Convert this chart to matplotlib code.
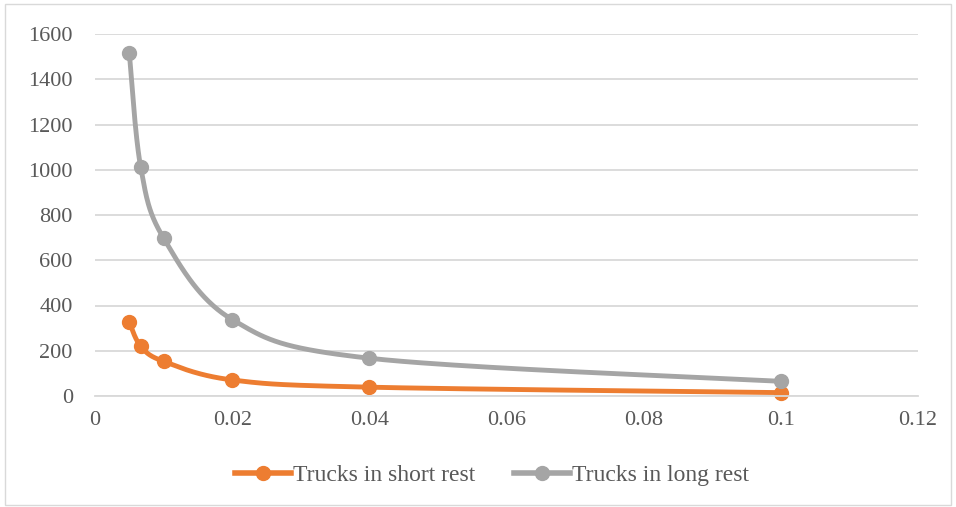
import numpy as np
import matplotlib
matplotlib.use('Agg')
import matplotlib.pyplot as plt
from matplotlib.lines import Line2D
from matplotlib.patches import Rectangle

plt.rcParams['font.family'] = ['Liberation Serif', 'DejaVu Serif']

x_vals = [0.005, 0.00667, 0.01, 0.02, 0.04, 0.1]
short_rest = [326, 220, 153, 71, 39, 15]
long_rest = [1515, 1010, 698, 338, 167, 65]
series_names = ['Trucks in short rest', 'Trucks in long rest']
colors = ['#ED7D31', '#A5A5A5']
text_color = '#595959'


def smooth(ax, xs, ys, n=40):
    # Catmull-Rom through the points, done in display space like Excel's smoothed lines
    pts = ax.transData.transform(np.column_stack([xs, ys]))
    p = np.vstack([pts[0], pts, pts[-1]])
    out = []
    t = np.linspace(0, 1, n)[:, None]
    for i in range(1, len(p) - 2):
        p0, p1, p2, p3 = p[i - 1], p[i], p[i + 1], p[i + 2]
        c1 = p1 + (p2 - p0) / 6.0
        c2 = p2 - (p3 - p1) / 6.0
        seg = ((1 - t) ** 3) * p1 + 3 * ((1 - t) ** 2) * t * c1 + 3 * (1 - t) * t ** 2 * c2 + t ** 3 * p2
        out.append(seg)
    out = np.vstack(out)
    d = ax.transData.inverted().transform(out)
    return d[:, 0], d[:, 1]


fig = plt.figure(figsize=(9.56, 5.07), dpi=100)
fig.patches.append(Rectangle((0.005, 0.004), 0.99, 0.988, transform=fig.transFigure,
                             fill=False, edgecolor='#D9D9D9', linewidth=1))
ax = fig.add_axes([95 / 956, 1 - 396 / 507, (918 - 95) / 956, (396 - 34) / 507])
ax.set_xlim(0, 0.12)
ax.set_ylim(0, 1600)
ax.set_xticks(np.arange(0, 0.121, 0.02))
ax.set_xticklabels(['0', '0.02', '0.04', '0.06', '0.08', '0.1', '0.12'])
ax.set_yticks(np.arange(0, 1601, 200))
ax.grid(axis='y', color='#D9D9D9', linewidth=1.3)
ax.set_axisbelow(True)
for s in ['top', 'right', 'left']:
    ax.spines[s].set_visible(False)
ax.spines['bottom'].set_color('#D9D9D9')
ax.spines['bottom'].set_linewidth(1.3)
ax.tick_params(axis='both', length=0, labelsize=16, colors=text_color)
ax.tick_params(axis='y', pad=16)
ax.tick_params(axis='x', pad=11)

for ys, c in zip([short_rest, long_rest], colors):
    sx, sy = smooth(ax, x_vals, ys)
    ax.plot(sx, sy, color=c, linewidth=3.5, solid_capstyle='round', clip_on=False)
    ax.plot(x_vals, ys, 'o', color=c, markersize=10, clip_on=False)

handles = [Line2D([], [], color=c, linewidth=4, marker='o', markersize=10) for c in colors]
fig.legend(handles, series_names, loc='center', bbox_to_anchor=(492 / 956, 1 - 475 / 507),
           ncol=2, frameon=False, fontsize=17, labelcolor=text_color, handlelength=2.35,
           handletextpad=0.1, columnspacing=1.65)

fig.savefig('out.png', dpi=100)
